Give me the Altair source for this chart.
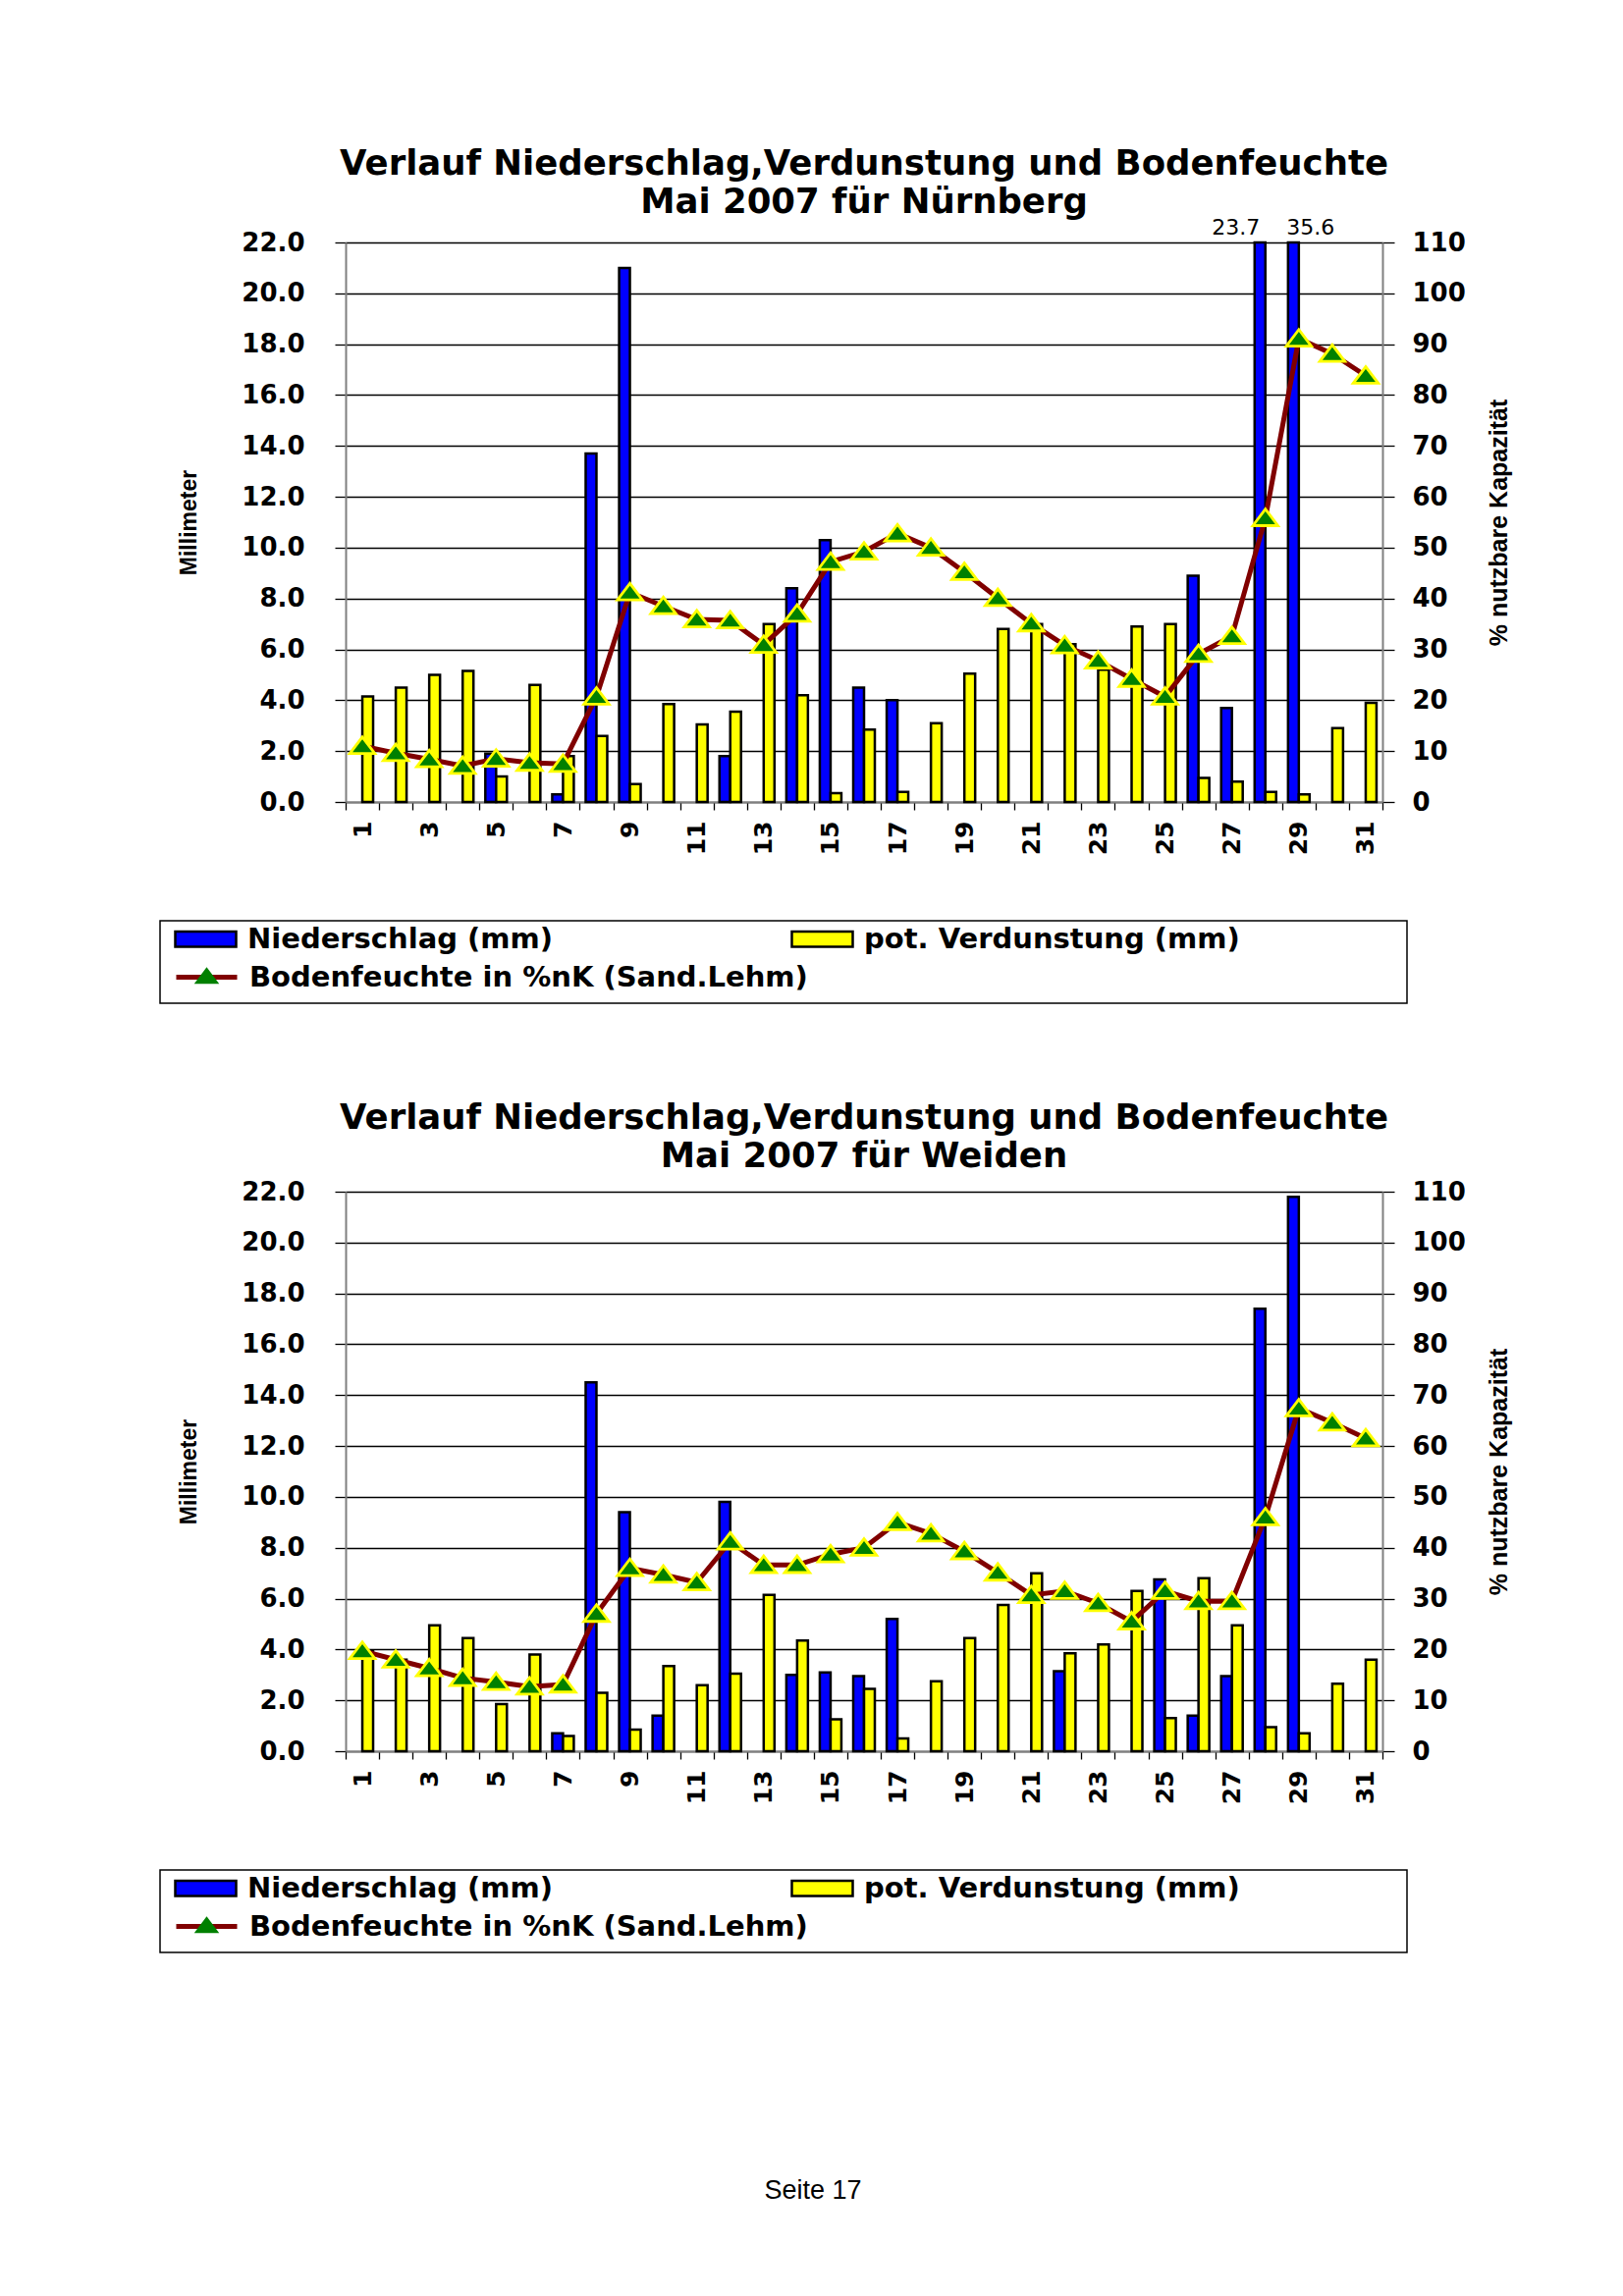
import altair as alt
import pandas as pd

# ---------------- data ----------------
DAYS = list(range(1, 32))

NBG_PRECIP = [0, 0, 0, 0, 1.9, 0, 0.3, 13.7, 21.0, 0, 0, 1.8, 0, 8.4, 10.3, 4.5,
              4.0, 0, 0, 0, 0, 0, 0, 0, 0, 8.9, 3.7, 23.7, 35.6, 0, 0]
NBG_EVAP = [4.15, 4.5, 5.0, 5.15, 1.0, 4.6, 1.8, 2.6, 0.7, 3.85, 3.05, 3.55, 7.0, 4.2, 0.35, 2.85,
            0.4, 3.1, 5.05, 6.8, 7.0, 6.2, 5.2, 6.9, 7.0, 0.95, 0.8, 0.4, 0.3, 2.9, 3.9]
NBG_SOIL = [11.0, 9.6, 8.4, 7.1, 8.5, 7.7, 7.5, 20.7, 41.2, 38.5, 35.9, 35.7, 30.9, 37.0, 47.2, 49.2,
            52.8, 50.0, 45.2, 40.1, 35.1, 30.8, 27.8, 24.2, 20.7, 29.1, 32.6, 55.8, 91.1, 88.1, 83.8]

WEI_PRECIP = [0, 0, 0, 0, 0, 0, 0.7, 14.5, 9.4, 1.4, 0, 9.8, 0, 3.0, 3.1, 2.95,
              5.2, 0, 0, 0, 0, 3.15, 0, 0, 6.75, 1.4, 2.95, 17.4, 21.8, 0, 0]
WEI_EVAP = [3.95, 3.6, 4.95, 4.45, 1.85, 3.8, 0.6, 2.3, 0.85, 3.35, 2.6, 3.05, 6.15, 4.35, 1.25, 2.45,
            0.5, 2.75, 4.45, 5.75, 7.0, 3.85, 4.2, 6.3, 1.3, 6.8, 4.95, 0.95, 0.7, 2.65, 3.6]
WEI_SOIL = [19.7, 18.0, 16.3, 14.4, 13.6, 12.7, 13.1, 27.0, 36.0, 34.7, 33.2, 41.2, 36.6, 36.6, 38.7, 40.0,
            45.0, 42.8, 39.3, 35.1, 30.7, 31.5, 29.1, 25.5, 31.5, 29.5, 29.5, 46.0, 67.4, 64.6, 61.5]

S_P = "Niederschlag (mm)"
S_E = "pot. Verdunstung (mm)"
S_B = "Bodenfeuchte in %nK (Sand.Lehm)"
S_M = S_B + " "          # marker key (kept distinct so its legend symbol is not merged)
TITLE_1 = "Verlauf Niederschlag,Verdunstung und Bodenfeuchte"
Y_LEFT_TITLE = "Millimeter"
Y_RIGHT_TITLE = "% nutzbare Kapazität"
FOOTER = "Seite 17"

MM_TICKS = [0, 2, 4, 6, 8, 10, 12, 14, 16, 18, 20, 22]
PCT_TICKS = [0, 10, 20, 30, 40, 50, 60, 70, 80, 90, 100, 110]

# ---------------- style ----------------
BOLD_FONT = "DejaVu Sans"
AX_FONT = "Liberation Sans"
TRI = "M-1,0.6L1,0.6L0,-0.72Z"
RECT = "M-1,-0.25L1,-0.25L1,0.25L-1,0.25Z"
W, H = 1056, 570
LEG_FS = 29


def station_chart(place, precip, evap, soil, title_offset, footer=False):
    bars_df = pd.DataFrame({
        "day": DAYS * 2,
        "series": [S_P] * len(DAYS) + [S_E] * len(DAYS),
        "value": precip + evap,
    })
    soil_df = pd.DataFrame({"day": DAYS, "series": [S_B] * len(DAYS), "value": soil})

    x = alt.X(
        "day:O",
        scale=alt.Scale(paddingInner=0, paddingOuter=0),
        axis=alt.Axis(
            title=None, labelAngle=270, labelAlign="right", labelBaseline="middle",
            labelExpr="datum.value % 2 == 1 ? datum.label : ''",
            labelFont=BOLD_FONT, labelFontSize=25, labelFontWeight="bold", labelColor="black",
            labelPadding=11, tickSize=8, tickColor="black", tickWidth=1.3, tickBand="extent",
            domainColor="#808080", domainWidth=2, grid=False,
        ),
    )
    y_mm = alt.Y(
        "value:Q",
        scale=alt.Scale(domain=[0, 22], nice=False, clamp=True),
        axis=alt.Axis(
            values=MM_TICKS, format=".1f", title=Y_LEFT_TITLE,
            titleFont=AX_FONT, titleFontSize=23, titleFontWeight="bold", titleAngle=270,
            titlePadding=41, titleColor="black",
            labelFont=BOLD_FONT, labelFontSize=26, labelFontWeight="bold", labelColor="black",
            labelPadding=31, tickSize=11, tickColor="black", tickWidth=1.3,
            domainColor="#808080", domainWidth=2,
            grid=True, gridColor="black", gridWidth=1.3,
        ),
    )
    y_pct = alt.Y(
        "value:Q",
        scale=alt.Scale(domain=[0, 110], nice=False),
        axis=alt.Axis(
            orient="right", values=PCT_TICKS, format="d", title=Y_RIGHT_TITLE,
            titleFont=AX_FONT, titleFontSize=25, titleFontWeight="bold", titleAngle=270,
            titlePadding=47, titleColor="black",
            labelFont=BOLD_FONT, labelFontSize=26, labelFontWeight="bold", labelColor="black",
            labelPadding=18, tickSize=12, tickColor="black", tickWidth=1.3,
            domainColor="#808080", domainWidth=2, grid=False,
        ),
    )

    bars = alt.Chart(bars_df).transform_filter("datum.value > 0").mark_bar(
        stroke="black", strokeWidth=2.5, strokeJoin="miter"
    ).encode(
        x=x,
        xOffset=alt.XOffset("series:N", scale=alt.Scale(domain=[S_P, S_E], paddingOuter=0.55, paddingInner=0)),
        y=y_mm,
        fill=alt.Fill(
            "series:N",
            scale=alt.Scale(domain=[S_P, S_E], range=["#0000FF", "#FFFF00"]),
            legend=alt.Legend(
                title=None, orient="none", legendX=-175, legendY=677,
                direction="horizontal", columns=2, columnPadding=237,
                symbolType=RECT, symbolSize=3844, symbolStrokeColor="black", symbolStrokeWidth=2.5,
                labelFont=BOLD_FONT, labelFontWeight="bold", labelFontSize=LEG_FS, labelColor="black",
                labelOffset=10, labelLimit=800, padding=0,
            ),
        ),
    )

    over = alt.Chart(bars_df).transform_filter(
        alt.FieldEqualPredicate(field="series", equal=S_P)
    ).transform_filter("datum.value > 22").transform_window(
        rk="row_number()", sort=[alt.SortField("day")]
    )
    lab1 = over.transform_filter("datum.rk == 1").mark_text(
        font=BOLD_FONT, fontSize=22, dx=-30, baseline="alphabetic", color="black"
    ).encode(x=x, y=alt.value(-8), text=alt.Text("value:Q", format=".1f"))
    lab2 = over.transform_filter("datum.rk == 2").mark_text(
        font=BOLD_FONT, fontSize=22, dx=12, baseline="alphabetic", color="black"
    ).encode(x=x, y=alt.value(-8), text=alt.Text("value:Q", format=".1f"))

    left = alt.layer(bars, lab1, lab2)

    line = alt.Chart(soil_df).mark_line(strokeWidth=5).encode(
        x=x, y=y_pct,
        stroke=alt.Stroke(
            "series:N",
            scale=alt.Scale(domain=[S_B], range=["#800000"]),
            legend=alt.Legend(
                title=None, orient="none", legendX=-175, legendY=715,
                symbolType="stroke", symbolSize=3844, symbolStrokeWidth=5,
                labelFont=BOLD_FONT, labelFontWeight="bold", labelFontSize=LEG_FS, labelColor="black",
                labelOffset=10, labelLimit=800, padding=0,
            ),
        ),
    )
    pts = alt.Chart(soil_df).transform_calculate(marker="datum.series + ' '").mark_point(
        filled=True, fill="#008000", stroke="#FFFF00", strokeWidth=2.8, size=650, opacity=1
    ).encode(
        x=x, y=y_pct,
        shape=alt.Shape(
            "marker:N",
            scale=alt.Scale(domain=[S_M], range=[TRI]),
            legend=alt.Legend(
                title=None, orient="none", legendX=-156, legendY=733,
                symbolType=TRI, symbolSize=650, symbolFillColor="#008000",
                symbolStrokeColor="#FFFF00", symbolStrokeWidth=2.8,
                labelExpr="''", labelFontSize=1, labelOffset=0, padding=0,
            ),
        ),
    )
    right = alt.layer(line, pts)

    deco_data = alt.Data(values=[{"t": FOOTER}])
    box = alt.Chart(deco_data).mark_rect(fill="white", fillOpacity=0, stroke="black", strokeWidth=1.5).encode(
        x=alt.value(-189), x2=alt.value(1081), y=alt.value(691), y2=alt.value(775)
    )
    layers = [left, right, box]
    if footer:
        foot = alt.Chart(deco_data).mark_text(
            font=AX_FONT, fontSize=27, color="black", baseline="middle", align="center"
        ).encode(x=alt.value(476), y=alt.value(1018), text="t:N")
        layers.append(foot)

    return alt.layer(*layers).resolve_scale(
        y="independent", fill="independent", stroke="independent", shape="independent"
    ).properties(
        width=W, height=H,
        title=alt.TitleParams(
            text=[TITLE_1, f"Mai 2007 für {place}"],
            font=BOLD_FONT, fontSize=35.5, fontWeight="bold", color="black",
            anchor="middle", frame="group", offset=title_offset, lineHeight=39,
        ),
    )


top = station_chart("Nürnberg", NBG_PRECIP, NBG_EVAP, NBG_SOIL, -3)
bottom = station_chart("Weiden", WEI_PRECIP, WEI_EVAP, WEI_SOIL, 5, footer=True)

chart = alt.vconcat(top, bottom, spacing=97).resolve_scale(
    fill="independent", stroke="independent", shape="independent"
).resolve_legend(
    fill="independent", stroke="independent", shape="independent"
).properties(
    padding={"left": 153, "top": 141, "right": 20, "bottom": 20}
).configure_view(
    stroke="#808080", strokeWidth=2
).configure(background="white")

chart.save("out.html", embed_options={"renderer": "svg", "actions": False})
